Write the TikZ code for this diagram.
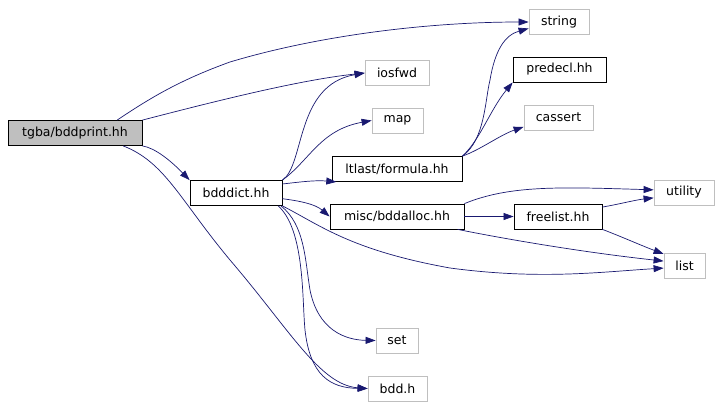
\documentclass[tikz,border=0pt]{standalone}
\usepackage{fontspec}
\usepackage{tikz}
\usetikzlibrary{arrows.meta}
\newfontfamily\hdrfont{DejaVu Sans}
\definecolor{edgeblue}{RGB}{25,25,112}
\definecolor{boxgray}{RGB}{191,191,191}
\tikzset{
    % Header of the project (black frame)
    hnode/.style={
        rectangle, draw=black, fill=white,
        minimum height=25pt, inner sep=0pt,
        font=\hdrfont\fontsize{12.5pt}{15pt}\selectfont, line width=0.8pt
    },
    % System header (gray frame)
    snode/.style={hnode, draw=boxgray},
    % The file the graph is drawn for
    rootnode/.style={hnode, fill=boxgray},
    % Include edge
    incarc/.style={-{Triangle[length=10pt,width=7pt]}, line width=0.7pt, edgeblue},
}
\begin{document}
\begin{tikzpicture}[x=1pt,y=-1pt]
  \useasboundingbox (0,0) rectangle (722,407);
  % nodes
  \node[rootnode,minimum width=134pt] (print) at (75,133) {tgba/bddprint.hh};
  \node[hnode,minimum width=92pt] (dict) at (236,193) {bdddict.hh};
  \node[snode,minimum width=60pt] (string) at (559,22) {string};
  \node[snode,minimum width=64pt] (iosfwd) at (397,73) {iosfwd};
  \node[snode,minimum width=51pt] (map) at (397.5,120.5) {map};
  \node[hnode,minimum width=130pt] (formula) at (397,169) {ltlast/formula.hh};
  \node[hnode,minimum width=134pt] (alloc) at (397,216.5) {misc/bddalloc.hh};
  \node[snode,minimum width=42pt] (set) at (397,340.5) {set};
  \node[snode,minimum width=59pt] (bdd) at (397.5,388.5) {bdd.h};
  \node[hnode,minimum width=93pt] (predecl) at (559.5,69.5) {predecl.hh};
  \node[snode,minimum width=69pt] (cassert) at (558.5,117.5) {cassert};
  \node[hnode,minimum width=88pt] (freelist) at (558,216.5) {freelist.hh};
  \node[snode,minimum width=60pt] (utility) at (684,192.5) {utility};
  \node[snode,minimum width=41pt] (list) at (684.5,265.5) {list};
  % edges from tgba/bddprint.hh
  \draw[incarc] (print.17) .. controls (150,98) and (180,80) .. (230,62)
                           .. controls (320,35) and (430,22) .. (string.west);
  \draw[incarc] (print.north east) .. controls (220,100) and (300,80) .. (iosfwd.west);
  \draw[incarc] (print.south east) .. controls (155,148) and (170,160) .. (dict.north west);
  \draw[incarc] (print.-15.5) .. controls (165,162) and (180,200) .. (230,260)
                              .. controls (290,330) and (320,385) .. (bdd.west);
  % edges from bdddict.hh
  \draw[incarc] (dict.north east) .. controls (305,165) and (295,85) .. (iosfwd.west);
  \draw[incarc] (dict.north east) .. controls (310,160) and (320,130) .. (map.west);
  \draw[incarc] (dict.11) .. controls (300,182) and (315,180) .. (formula.192);
  \draw[incarc] (dict.-7) .. controls (300,201) and (315,204) .. (alloc.west);
  \draw[incarc] (dict.south east) .. controls (320,225) and (350,250) .. (450,268)
                                  .. controls (540,280) and (600,272) .. (list.187);
  \draw[incarc] (dict.-16) .. controls (305,225) and (305,260) .. (310,290)
                           .. controls (318,330) and (345,340) .. (set.west);
  \draw[incarc] (dict.-17) .. controls (305,230) and (302,300) .. (305,330)
                           .. controls (310,375) and (330,388) .. (bdd.west);
  % edges from ltlast/formula.hh
  \draw[incarc] (formula.north east) .. controls (485,140) and (485,100) .. (490,80)
                                     .. controls (495,50) and (505,35) .. (string.192);
  \draw[incarc] (formula.north east) .. controls (480,140) and (490,110) .. (predecl.south west);
  \draw[incarc] (formula.north east) .. controls (480,150) and (500,135) .. (cassert.195);
  % edges from misc/bddalloc.hh
  \draw[incarc] (alloc.north east) .. controls (510,185) and (560,187) .. (utility.175);
  \draw[incarc] (alloc.east) -- (freelist.west);
  \draw[incarc] (alloc.-12) .. controls (500,238) and (580,252) .. (list.168);
  % edges from freelist.hh
  \draw[incarc] (freelist.12) .. controls (620,204) and (635,200) .. (utility.190);
  \draw[incarc] (freelist.south east) .. controls (620,236) and (640,245) .. (list.151);
\end{tikzpicture}
\end{document}
